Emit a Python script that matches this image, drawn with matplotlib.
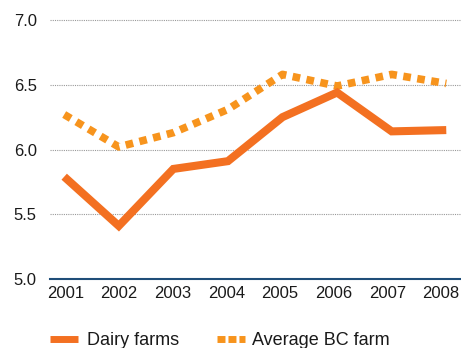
import matplotlib
matplotlib.use("Agg")
import matplotlib.pyplot as plt
from matplotlib.lines import Line2D

years = [2001, 2002, 2003, 2004, 2005, 2006, 2007, 2008]
dairy = [5.79, 5.41, 5.85, 5.91, 6.25, 6.44, 6.14, 6.15]
average_bc = [6.27, 6.02, 6.13, 6.31, 6.58, 6.49, 6.58, 6.51]
yticks = [5.0, 5.5, 6.0, 6.5, 7.0]
series_labels = ['Dairy farms', 'Average BC farm']

plt.rcParams['font.family'] = ['Liberation Sans', 'DejaVu Sans']

W, H = 461, 348
fig = plt.figure(figsize=(W/100, H/100), dpi=100)
ax = fig.add_axes([50/W, 69/H, 411/W, 259/H])

dairy_color = '#F37021'
avg_color = '#F7941D'
text_color = '#1a1a1a'
dot_style = (0, (1.0, 0.85))

ax.plot(years, dairy, color=dairy_color, lw=5.8, solid_joinstyle='miter',
        solid_capstyle='butt', zorder=3)
ax.plot(years, average_bc, color=avg_color, lw=5.5, linestyle=dot_style,
        dash_capstyle='butt', zorder=2)

ax.set_xlim(2000.74, 2008.27)
ax.set_ylim(5.0, 7.0)
ax.set_yticks(yticks)
ax.set_yticklabels([f"{v:.1f}" for v in yticks])
ax.set_xticks(years)
ax.set_xticklabels([])

for v in yticks[1:]:
    ax.axhline(v, color='#999999', lw=0.8, linestyle=(0, (1, 1)), zorder=1, clip_on=False)
ax.axhline(5.0, color='#1F4E79', lw=1.5, zorder=4, clip_on=False)

for s in ax.spines.values():
    s.set_visible(False)
ax.tick_params(axis='both', length=0, labelsize=12, colors=text_color)
ax.tick_params(axis='y', pad=9.5)

# year labels (slightly drifting left, as in the reference layout)
for i, y in enumerate(years):
    ax.annotate(str(y), xy=(y, 0), xycoords=('data', 'axes fraction'),
                xytext=(1 - 0.9 * i, -15), textcoords='offset pixels',
                ha='center', va='center', fontsize=12, color=text_color)

# manual legend
ly = 1 - 339/H
fig.add_artist(Line2D([50/W, 78/W], [ly, ly], color=dairy_color, lw=5.0,
                      solid_capstyle='butt', transform=fig.transFigure))
fig.text(87/W, 1 - 345/H, series_labels[0], fontsize=13, color=text_color,
         va='baseline', ha='left')
fig.add_artist(Line2D([217/W, 245/W], [ly, ly], color=avg_color, lw=5.0,
                      linestyle=(0, (1.15, 0.43)), dash_capstyle='butt',
                      transform=fig.transFigure))
fig.text(252/W, 1 - 345/H, series_labels[1], fontsize=13, color=text_color,
         va='baseline', ha='left')

fig.savefig('out.png', dpi=100)
